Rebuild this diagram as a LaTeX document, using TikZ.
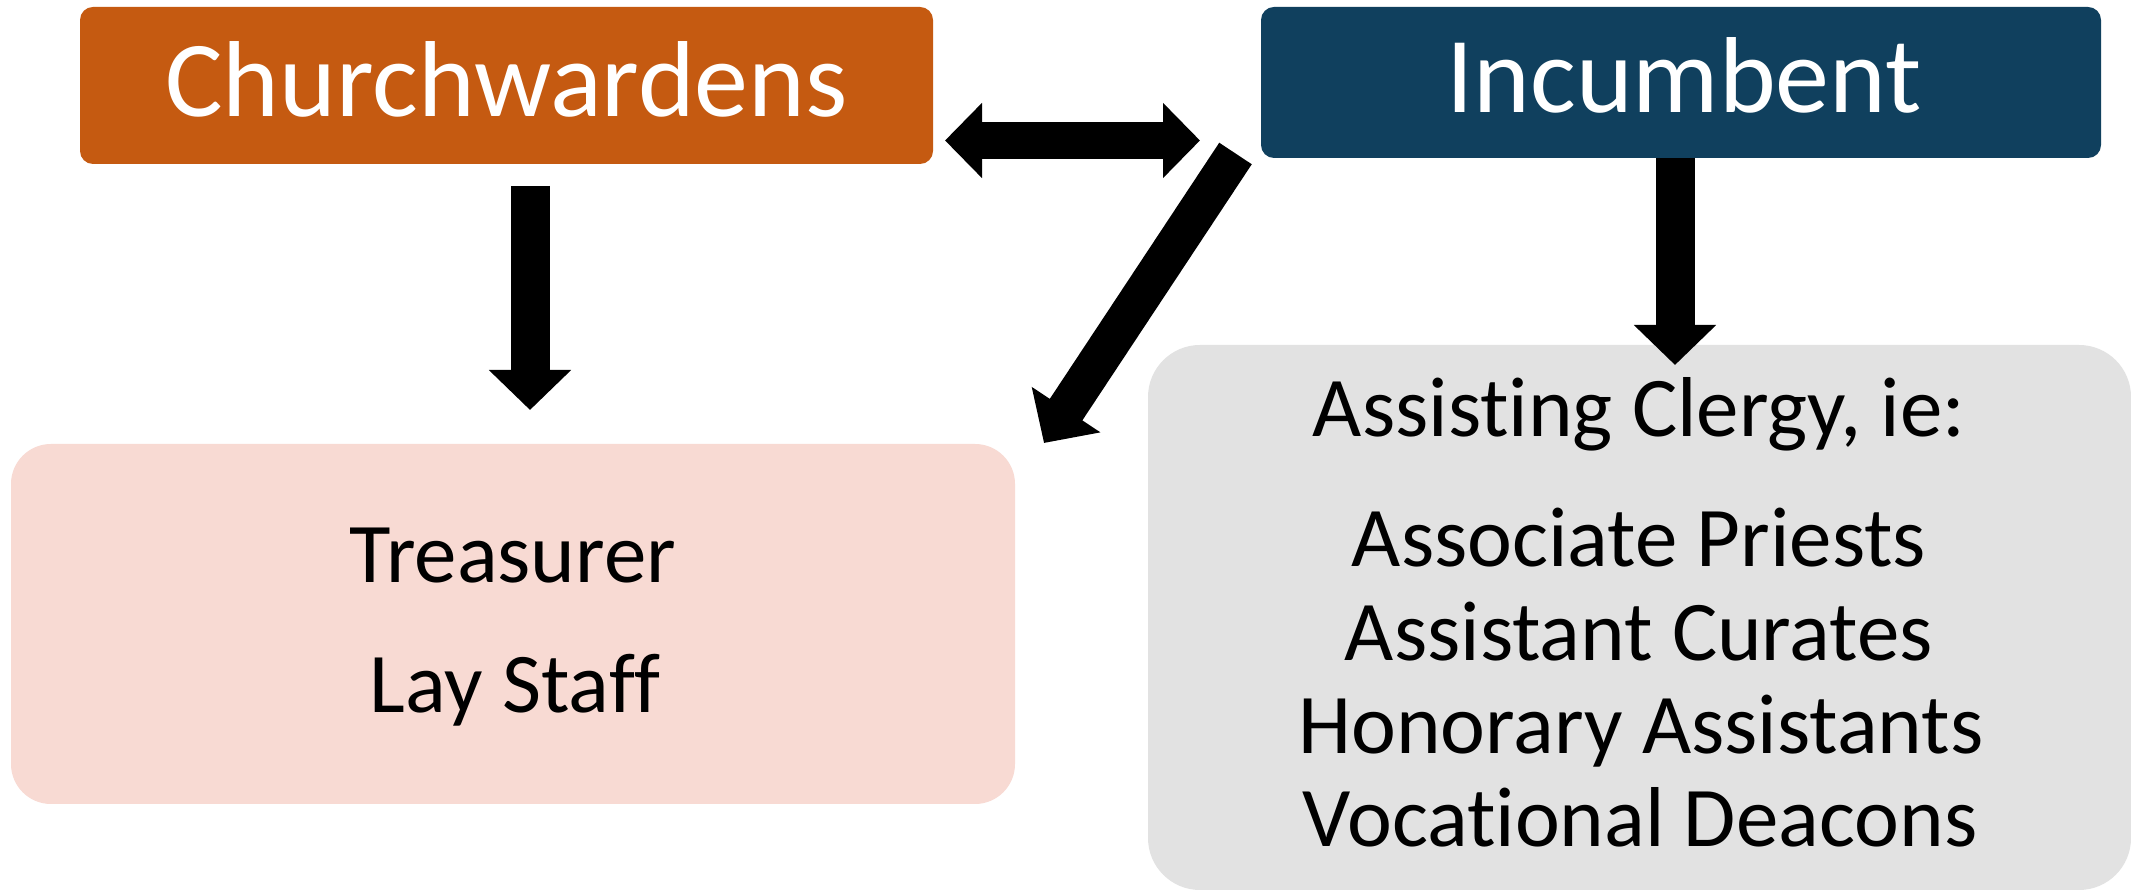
\documentclass[tikz,border=0pt]{standalone}
\usepackage{fontspec}
\setmainfont{Carlito}[Ligatures=NoCommon]
\usetikzlibrary{arrows.meta,calc}
\definecolor{cworange}{HTML}{C55A11}
\definecolor{incblue}{HTML}{10405E}
\definecolor{trpink}{HTML}{F8DAD3}
\definecolor{acgray}{HTML}{E2E2E2}
\tikzset{
  box/.style={inner sep=0pt, outer sep=0pt, draw=none},
  txt/.style={inner sep=0pt, outer sep=0pt, anchor=base, align=center},
  headfont/.style={font=\fontsize{108}{130}\selectfont, text=white},
  bodyfont/.style={font=\fontsize{85}{102}\selectfont, text=black},
  blockarrow/.style={line width=39pt, line cap=butt, -{Triangle[length=40pt,width=80pt]}},
  dblarrow/.style={line width=37pt, line cap=butt, {Triangle[length=37pt,width=73pt]}-{Triangle[length=37pt,width=73pt]}},
}
\begin{document}
\begin{tikzpicture}[x=1pt,y=1pt]
\useasboundingbox (0,0) rectangle (2131,891);
\fill[white] (0,0) rectangle (2131,891);
% boxes
\node[box, fill=cworange, rounded corners=13pt, minimum width=853pt, minimum height=157pt] (cw) at (506.5,805.5) {};
\node[box, fill=incblue, rounded corners=13pt, minimum width=840pt, minimum height=151pt] (inc) at (1681,808.5) {};
\node[box, fill=trpink, rounded corners=40pt, minimum width=1004pt, minimum height=360pt] (tr) at (513,267) {};
\node[box, fill=acgray, rounded corners=52pt, minimum width=983pt, minimum height=545pt] (ac) at (1639.5,273.5) {};
% texts
\node[txt, headfont] (cwt) at (506.5,774) {Churchwardens};
\node[txt, headfont] (inct) at (1684,778) {Incumbent};
\node[txt, bodyfont] (tr1) at (513,308) {Treasurer};
\node[txt, bodyfont] (tr2) at (515,178) {Lay Staff};
\node[txt, bodyfont] (ac0) at (1639,454) {Assisting Clergy, ie:};
\node[txt, bodyfont] (ac1) at (1639,324) {Associate Priests};
\node[txt, bodyfont] (ac2) at (1639,230) {Assistant Curates};
\node[txt, bodyfont] (ac3) at (1641,137) {Honorary Assistants};
\node[txt, bodyfont] (ac4) at (1640,44) {Vocational Deacons};
% arrows
\draw[blockarrow] ($(cw.south)+(23.5,-22)$) -- ($(tr.north)+(17,34)$);
\draw[dblarrow] ($(cw.east)+(12,-55)$) -- ($(inc.west)+(-61,-58)$);
\draw[blockarrow] ($(inc.west)+(-25.5,-71)$) -- ($(tr.north east)+(29,1)$);
\draw[blockarrow] ($(inc.south)+(-6,0)$) -- ($(ac.north)+(35.5,-20)$);
\end{tikzpicture}
\end{document}
